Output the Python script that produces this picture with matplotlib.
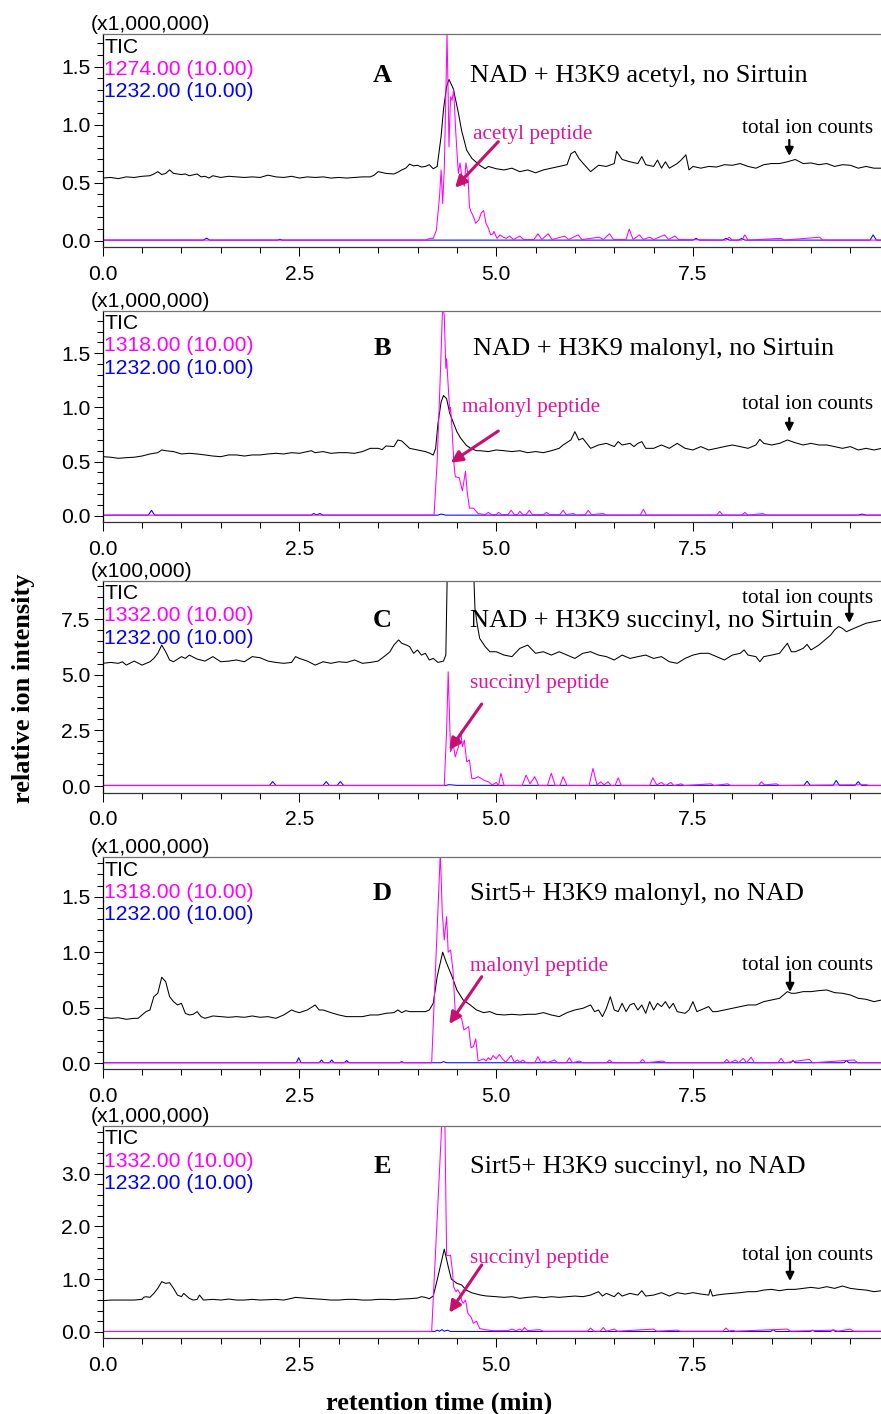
import numpy as np
import matplotlib
matplotlib.use('Agg')
import matplotlib.pyplot as plt
from matplotlib.ticker import MultipleLocator, FormatStrFormatter

W, H = 881, 1414

# ---- Panel A: NAD + H3K9 acetyl, no Sirtuin (x1,000,000) ----
tic_a = [(0.0,0.54),(0.1,0.545),(0.2,0.535),(0.3,0.55),(0.4,0.545),(0.5,0.555),(0.6,0.56),(0.65,0.575),(0.7,0.595),
         (0.75,0.57),(0.8,0.58),(0.85,0.61),(0.9,0.58),(1.0,0.57),(1.05,0.575),(1.1,0.56),(1.2,0.575),(1.25,0.55),
         (1.3,0.555),(1.35,0.54),(1.4,0.56),(1.5,0.545),(1.6,0.555),(1.7,0.55),(1.8,0.545),(1.9,0.55),(2.0,0.545),
         (2.1,0.565),(2.2,0.55),(2.3,0.545),(2.4,0.555),(2.5,0.54),(2.6,0.55),(2.7,0.545),(2.8,0.55),(2.9,0.54),
         (3.0,0.545),(3.1,0.54),(3.2,0.545),(3.3,0.55),(3.4,0.55),(3.45,0.565),(3.5,0.595),(3.6,0.58),(3.7,0.575),
         (3.75,0.59),(3.8,0.61),(3.85,0.625),(3.9,0.66),(3.95,0.645),(4.0,0.65),(4.05,0.635),(4.1,0.64),(4.15,0.655),
         (4.2,0.62),(4.25,0.64),(4.3,0.9),(4.33,1.13),(4.37,1.33),(4.40,1.39),(4.455,1.31),(4.52,1.10),(4.56,0.95),
         (4.625,0.78),(4.69,0.71),(4.79,0.65),(4.86,0.62),(4.9,0.64),(5.0,0.62),(5.1,0.61),(5.2,0.625),(5.3,0.595),
         (5.4,0.61),(5.5,0.585),(5.6,0.61),(5.7,0.625),(5.8,0.64),(5.9,0.655),(5.95,0.75),(6.0,0.77),(6.05,0.71),
         (6.1,0.67),(6.2,0.595),(6.3,0.65),(6.4,0.64),(6.5,0.665),(6.53,0.77),(6.6,0.70),(6.7,0.68),(6.8,0.665),
         (6.85,0.725),(6.9,0.655),(7.0,0.64),(7.05,0.695),(7.1,0.625),(7.15,0.68),(7.2,0.625),(7.3,0.665),(7.35,0.695),
         (7.41,0.74),(7.45,0.61),(7.5,0.64),(7.6,0.625),(7.7,0.64),(7.8,0.635),(7.9,0.655),(8.0,0.65),(8.1,0.665),
         (8.2,0.64),(8.3,0.625),(8.4,0.655),(8.5,0.665),(8.6,0.665),(8.7,0.68),(8.8,0.70),(8.9,0.665),(9.0,0.67),
         (9.1,0.655),(9.2,0.665),(9.3,0.64),(9.4,0.655),(9.5,0.65),(9.6,0.625),(9.7,0.64),(9.8,0.625),(9.9,0.625)]
mag_a = [(0.0,0.005),(4.1,0.005),(4.16,0.02),(4.20,0.02),(4.24,0.09),(4.28,0.38),(4.30,0.61),(4.32,0.32),(4.34,0.61),
         (4.36,1.24),(4.375,1.79),(4.39,1.24),(4.40,0.81),(4.42,1.24),(4.44,1.21),(4.46,1.30),(4.485,0.95),(4.51,0.67),
         (4.52,0.58),(4.54,0.67),(4.565,0.55),(4.595,0.47),(4.615,0.67),(4.64,0.58),(4.66,0.29),(4.68,0.25),(4.71,0.21),
         (4.74,0.15),(4.78,0.18),(4.81,0.24),(4.84,0.26),(4.87,0.15),(4.90,0.11),(4.93,0.05),(4.96,0.06),(4.97,0.08),
         (5.01,0.02),(5.05,0.05),(5.09,0.03),(5.13,0.02),(5.17,0.04),(5.22,0.01),(5.30,0.04),(5.35,0.01),(5.48,0.01),
         (5.53,0.06),(5.58,0.01),(5.66,0.06),(5.71,0.01),(5.87,0.04),(5.92,0.01),(6.04,0.05),(6.09,0.01),(6.31,0.03),
         (6.36,0.01),(6.44,0.06),(6.49,0.01),(6.65,0.01),(6.69,0.10),(6.74,0.01),(6.82,0.05),(6.87,0.01),(6.95,0.03),
         (7.0,0.01),(7.14,0.05),(7.19,0.01),(7.27,0.04),(7.32,0.01),(7.92,0.005),(7.96,0.03),(8.0,0.005),(8.12,0.005),
         (8.16,0.05),(8.2,0.005),(8.62,0.02),(8.66,0.005),(9.11,0.03),(9.15,0.005),(9.9,0.005)]
blu_a = [(0,0.005),(1.28,0.005),(1.32,0.022),(1.36,0.005),(2.22,0.005),(2.25,0.012),(2.28,0.005),(7.5,0.005),
         (7.54,0.02),(7.58,0.005),(7.88,0.005),(7.92,0.02),(7.96,0.005),(8.08,0.005),(8.12,0.02),(8.16,0.005),
         (9.75,0.005),(9.79,0.05),(9.83,0.005),(9.9,0.005)]

# ---- Panel B: NAD + H3K9 malonyl, no Sirtuin (x1,000,000) ----
tic_b = [(0.0,0.545),(0.1,0.54),(0.2,0.53),(0.3,0.536),(0.4,0.54),(0.5,0.551),(0.6,0.57),(0.7,0.582),(0.75,0.607),
         (0.8,0.60),(0.9,0.592),(1.0,0.57),(1.1,0.576),(1.2,0.57),(1.3,0.561),(1.4,0.551),(1.5,0.545),(1.6,0.561),
         (1.7,0.561),(1.8,0.551),(1.9,0.561),(2.0,0.561),(2.1,0.57),(2.2,0.576),(2.3,0.57),(2.4,0.582),(2.5,0.576),
         (2.6,0.592),(2.65,0.60),(2.7,0.582),(2.8,0.592),(2.9,0.576),(3.0,0.582),(3.1,0.582),(3.2,0.576),(3.3,0.592),
         (3.4,0.622),(3.5,0.622),(3.55,0.61),(3.6,0.644),(3.7,0.638),(3.75,0.699),(3.8,0.69),(3.9,0.622),(4.0,0.607),
         (4.1,0.592),(4.16,0.576),(4.2,0.56),(4.23,0.62),(4.26,0.85),(4.30,1.05),(4.33,1.11),(4.37,1.08),(4.41,0.945),
         (4.45,0.87),(4.50,0.776),(4.55,0.714),(4.62,0.65),(4.68,0.62),(4.75,0.60),(4.8,0.60),(4.9,0.592),(5.0,0.607),
         (5.1,0.60),(5.2,0.592),(5.3,0.60),(5.4,0.582),(5.5,0.592),(5.6,0.582),(5.7,0.60),(5.8,0.622),(5.85,0.653),
         (5.95,0.70),(6.0,0.776),(6.05,0.699),(6.1,0.715),(6.15,0.668),(6.2,0.622),(6.3,0.653),(6.4,0.668),(6.5,0.638),
         (6.55,0.684),(6.6,0.653),(6.7,0.668),(6.75,0.638),(6.8,0.668),(6.85,0.684),(6.9,0.622),(7.0,0.622),(7.1,0.653),
         (7.2,0.622),(7.3,0.668),(7.4,0.622),(7.5,0.607),(7.6,0.638),(7.7,0.607),(7.8,0.622),(7.9,0.638),(8.0,0.653),
         (8.1,0.638),(8.2,0.622),(8.3,0.653),(8.35,0.705),(8.4,0.668),(8.5,0.653),(8.6,0.668),(8.7,0.699),(8.8,0.674),
         (8.9,0.653),(9.0,0.668),(9.1,0.653),(9.2,0.653),(9.3,0.638),(9.4,0.622),(9.5,0.638),(9.6,0.607),(9.7,0.622),
         (9.8,0.607),(9.9,0.622)]
mag_b = [(0,0.005),(4.21,0.005),(4.25,0.5),(4.29,1.3),(4.32,1.95),(4.34,1.85),(4.36,1.36),(4.37,1.45),(4.39,1.2),
         (4.41,0.96),(4.42,1.0),(4.44,0.79),(4.46,0.51),(4.48,0.36),(4.53,0.35),(4.57,0.23),(4.61,0.41),(4.63,0.23),
         (4.66,0.07),(4.71,0.07),(4.77,0.02),(4.86,0.01),(4.90,0.03),(4.94,0.01),(5.0,0.01),(5.03,0.03),(5.07,0.01),
         (5.15,0.01),(5.19,0.05),(5.23,0.01),(5.27,0.01),(5.30,0.04),(5.34,0.01),(5.38,0.01),(5.42,0.05),(5.46,0.01),
         (5.60,0.01),(5.64,0.03),(5.68,0.01),(5.81,0.01),(5.85,0.05),(5.89,0.01),(5.98,0.02),(6.02,0.005),(6.13,0.01),
         (6.17,0.05),(6.21,0.01),(6.36,0.02),(6.40,0.005),(6.83,0.005),(6.87,0.06),(6.91,0.005),(7.80,0.005),(7.84,0.04),
         (7.88,0.005),(8.12,0.005),(8.16,0.03),(8.20,0.005),(8.39,0.02),(8.43,0.005),(9.9,0.005)]
blu_b = [(0,0.005),(0.58,0.005),(0.62,0.05),(0.66,0.005),(2.65,0.005),(2.68,0.02),(2.72,0.008),(2.76,0.02),
         (2.80,0.005),(4.26,0.005),(4.30,0.015),(4.36,0.005),(9.6,0.005),(9.65,0.015),(9.7,0.005),(9.9,0.005)]

# ---- Panel C: NAD + H3K9 succinyl, no Sirtuin (x100,000) ----
tic_c = [(0.0,5.51),(0.1,5.55),(0.2,5.51),(0.25,5.58),(0.3,5.43),(0.4,5.61),(0.5,5.43),(0.6,5.58),(0.65,5.73),
         (0.7,5.96),(0.75,6.33),(0.8,6.03),(0.85,5.66),(0.9,5.58),(1.0,5.81),(1.05,5.73),(1.1,5.88),(1.2,5.70),
         (1.3,5.61),(1.4,5.81),(1.5,5.58),(1.6,5.61),(1.7,5.66),(1.8,5.58),(1.9,5.81),(2.0,5.76),(2.1,5.61),(2.2,5.55),
         (2.3,5.51),(2.4,5.55),(2.45,5.81),(2.5,5.73),(2.6,5.61),(2.7,5.43),(2.8,5.58),(2.9,5.51),(3.0,5.58),(3.1,5.55),
         (3.2,5.66),(3.3,5.51),(3.4,5.55),(3.5,5.61),(3.6,5.88),(3.65,6.03),(3.7,6.33),(3.76,6.56),(3.8,6.41),
         (3.86,6.33),(3.9,6.26),(3.95,5.96),(4.0,6.11),(4.05,5.88),(4.1,5.96),(4.15,5.66),(4.2,5.73),(4.26,5.55),
         (4.33,5.61),(4.36,5.88),(4.39,12.0),(4.42,30.0),(4.55,40.0),(4.68,30.0),(4.71,10.0),(4.73,7.98),(4.76,7.23),
         (4.79,6.63),(4.86,6.26),(4.92,6.03),(5.0,6.03),(5.1,5.88),(5.2,5.81),(5.3,6.18),(5.4,6.33),(5.5,5.96),
         (5.6,6.03),(5.7,5.88),(5.8,6.03),(5.9,5.88),(6.0,5.73),(6.1,5.96),(6.2,6.03),(6.3,5.88),(6.4,5.81),(6.5,5.66),
         (6.6,5.88),(6.7,5.73),(6.8,5.81),(6.9,5.88),(7.0,5.73),(7.1,5.81),(7.2,5.58),(7.3,5.51),(7.4,5.73),(7.5,5.88),
         (7.6,5.96),(7.7,5.96),(7.8,5.81),(7.9,5.66),(8.0,5.88),(8.1,5.96),(8.15,6.11),(8.2,5.88),(8.3,5.81),
         (8.35,5.58),(8.4,5.81),(8.5,5.88),(8.6,5.96),(8.7,6.41),(8.75,6.03),(8.8,6.03),(8.9,6.18),(8.95,6.36),
         (9.0,6.11),(9.1,6.33),(9.2,6.63),(9.25,6.78),(9.3,7.01),(9.35,7.16),(9.4,7.08),(9.45,6.93),(9.5,7.01),
         (9.6,7.16),(9.7,7.31),(9.8,7.38),(9.9,7.45)]
mag_c = [(0,0.02),(4.34,0.02),(4.37,2.5),(4.39,5.13),(4.42,1.54),(4.455,1.84),(4.48,1.31),(4.52,1.76),(4.55,2.44),
         (4.57,1.76),(4.595,2.06),(4.625,1.09),(4.66,1.17),(4.69,0.34),(4.73,0.34),(4.77,0.42),(4.84,0.27),(4.90,0.19),
         (4.95,0.05),(5.0,0.16),(5.03,0.02),(5.06,0.57),(5.10,0.02),(5.33,0.02),(5.38,0.49),(5.43,0.1),(5.49,0.42),
         (5.54,0.02),(5.65,0.02),(5.70,0.57),(5.75,0.02),(5.81,0.02),(5.85,0.42),(5.90,0.02),(6.18,0.02),(6.23,0.79),
         (6.28,0.05),(6.33,0.19),(6.37,0.05),(6.42,0.19),(6.46,0.02),(6.51,0.02),(6.55,0.37),(6.59,0.02),(6.95,0.02),
         (6.99,0.37),(7.04,0.05),(7.10,0.16),(7.15,0.02),(7.22,0.16),(7.26,0.02),(7.35,0.10),(7.39,0.02),(7.73,0.10),
         (7.77,0.02),(7.94,0.10),(7.98,0.02),(8.33,0.02),(8.37,0.19),(8.41,0.05),(8.56,0.10),(8.60,0.02),(9.70,0.06),
         (9.74,0.02),(9.9,0.02)]
blu_c = [(0,0.03),(2.12,0.03),(2.16,0.2),(2.20,0.03),(2.80,0.03),(2.84,0.2),(2.88,0.03),(2.98,0.03),(3.02,0.2),
         (3.06,0.03),(4.36,0.03),(4.4,0.06),(4.5,0.03),(8.91,0.03),(8.95,0.22),(8.99,0.03),(9.28,0.03),(9.32,0.25),
         (9.36,0.03),(9.56,0.03),(9.60,0.2),(9.64,0.03),(9.9,0.03)]

# ---- Panel D: Sirt5 + H3K9 malonyl, no NAD (x1,000,000) ----
tic_d = [(0.0,0.414),(0.1,0.405),(0.2,0.41),(0.3,0.396),(0.4,0.405),(0.45,0.405),(0.5,0.435),(0.55,0.465),(0.6,0.48),
         (0.65,0.60),(0.7,0.63),(0.75,0.774),(0.8,0.735),(0.85,0.60),(0.9,0.555),(0.95,0.525),(1.0,0.54),(1.05,0.45),
         (1.1,0.435),(1.15,0.441),(1.2,0.465),(1.25,0.42),(1.3,0.405),(1.4,0.426),(1.5,0.42),(1.6,0.414),(1.7,0.42),
         (1.8,0.414),(1.9,0.426),(2.0,0.414),(2.1,0.42),(2.2,0.405),(2.3,0.435),(2.4,0.48),(2.45,0.465),(2.5,0.456),
         (2.6,0.48),(2.7,0.525),(2.75,0.48),(2.8,0.48),(2.9,0.456),(3.0,0.435),(3.1,0.42),(3.2,0.42),(3.3,0.42),
         (3.4,0.435),(3.5,0.435),(3.6,0.45),(3.7,0.456),(3.75,0.48),(3.8,0.456),(3.85,0.474),(3.9,0.465),(4.0,0.465),
         (4.1,0.465),(4.15,0.48),(4.2,0.54),(4.25,0.78),(4.32,1.0),(4.37,0.90),(4.44,0.78),(4.50,0.66),(4.58,0.57),
         (4.67,0.525),(4.75,0.48),(4.84,0.456),(4.92,0.465),(5.0,0.441),(5.1,0.435),(5.2,0.441),(5.3,0.435),(5.4,0.441),
         (5.5,0.441),(5.6,0.456),(5.7,0.435),(5.8,0.42),(5.9,0.456),(6.0,0.48),(6.1,0.495),(6.15,0.51),(6.2,0.525),
         (6.25,0.465),(6.3,0.48),(6.35,0.42),(6.4,0.495),(6.45,0.60),(6.5,0.48),(6.55,0.465),(6.6,0.54),(6.65,0.465),
         (6.7,0.525),(6.75,0.54),(6.8,0.48),(6.85,0.525),(6.9,0.45),(6.95,0.555),(7.0,0.48),(7.05,0.54),(7.1,0.51),
         (7.15,0.555),(7.2,0.495),(7.25,0.54),(7.3,0.465),(7.4,0.45),(7.45,0.48),(7.5,0.555),(7.55,0.465),(7.6,0.48),
         (7.7,0.51),(7.75,0.465),(7.8,0.465),(7.9,0.48),(8.0,0.495),(8.1,0.51),(8.2,0.525),(8.3,0.525),(8.4,0.555),
         (8.5,0.57),(8.6,0.585),(8.7,0.645),(8.75,0.63),(8.8,0.63),(8.9,0.645),(9.0,0.645),(9.1,0.654),(9.2,0.66),
         (9.3,0.636),(9.4,0.63),(9.5,0.615),(9.6,0.585),(9.7,0.576),(9.8,0.555),(9.9,0.57)]
mag_d = [(0,0.005),(4.18,0.005),(4.29,1.9),(4.315,1.35),(4.34,1.11),(4.37,1.32),(4.39,1.0),(4.42,1.02),(4.45,0.84),
         (4.48,0.46),(4.52,0.42),(4.56,0.405),(4.59,0.30),(4.65,0.33),(4.68,0.14),(4.71,0.15),(4.74,0.22),(4.77,0.02),
         (4.84,0.04),(4.87,0.02),(4.90,0.05),(4.93,0.03),(4.96,0.07),(5.0,0.04),(5.04,0.08),(5.08,0.04),(5.12,0.01),
         (5.19,0.07),(5.23,0.01),(5.27,0.03),(5.30,0.01),(5.34,0.03),(5.38,0.005),(5.49,0.005),(5.53,0.06),(5.57,0.005),
         (5.61,0.02),(5.65,0.005),(5.74,0.03),(5.78,0.005),(5.89,0.005),(5.93,0.05),(5.97,0.005),(6.06,0.02),(6.1,0.005),
         (6.40,0.005),(6.44,0.03),(6.48,0.005),(6.82,0.005),(6.86,0.035),(6.90,0.005),(7.12,0.02),(7.16,0.005),
         (7.89,0.005),(7.93,0.035),(7.97,0.005),(8.04,0.03),(8.08,0.005),(8.14,0.045),(8.18,0.005),(8.24,0.055),
         (8.28,0.005),(8.58,0.005),(8.62,0.045),(8.66,0.005),(8.98,0.035),(9.02,0.005),(9.55,0.03),(9.59,0.005),
         (9.9,0.005)]
blu_d = [(0,0.005),(2.46,0.005),(2.49,0.05),(2.52,0.005),(2.75,0.005),(2.78,0.03),(2.81,0.005),(2.88,0.005),
         (2.91,0.03),(2.94,0.005),(3.07,0.005),(3.10,0.025),(3.13,0.005),(3.77,0.005),(3.80,0.015),(3.83,0.005),
         (4.3,0.005),(4.33,0.015),(4.37,0.005),(8.74,0.005),(8.77,0.025),(8.80,0.005),(9.42,0.005),(9.45,0.025),
         (9.48,0.005),(9.9,0.005)]

# ---- Panel E: Sirt5 + H3K9 succinyl, no NAD (x1,000,000) ----
tic_e = [(0.0,0.589),(0.1,0.602),(0.2,0.602),(0.3,0.602),(0.4,0.602),(0.5,0.615),(0.52,0.653),(0.55,0.666),(0.6,0.653),
         (0.65,0.729),(0.7,0.824),(0.75,0.951),(0.8,0.919),(0.85,0.932),(0.9,0.824),(0.95,0.697),(1.0,0.666),(1.03,0.729),
         (1.1,0.634),(1.15,0.602),(1.2,0.615),(1.23,0.697),(1.28,0.602),(1.4,0.615),(1.5,0.602),(1.6,0.621),(1.7,0.602),
         (1.8,0.602),(1.9,0.615),(2.0,0.602),(2.1,0.608),(2.2,0.615),(2.3,0.602),(2.4,0.634),(2.45,0.653),(2.6,0.634),
         (2.8,0.615),(2.9,0.602),(3.0,0.602),(3.1,0.615),(3.2,0.615),(3.3,0.602),(3.4,0.602),(3.5,0.615),(3.6,0.615),
         (3.7,0.608),(3.8,0.621),(3.9,0.628),(4.0,0.640),(4.05,0.666),(4.1,0.653),(4.15,0.628),(4.2,0.678),(4.25,0.983),
         (4.34,1.57),(4.39,1.24),(4.43,1.0),(4.50,0.92),(4.56,0.89),(4.62,0.79),(4.69,0.74),(4.79,0.70),(4.87,0.68),
         (5.0,0.666),(5.1,0.653),(5.2,0.666),(5.3,0.634),(5.4,0.653),(5.5,0.666),(5.6,0.647),(5.7,0.666),(5.8,0.653),
         (5.9,0.666),(6.0,0.678),(6.1,0.666),(6.2,0.697),(6.3,0.761),(6.35,0.678),(6.4,0.729),(6.5,0.666),(6.55,0.742),
         (6.6,0.678),(6.7,0.729),(6.8,0.697),(6.85,0.780),(6.9,0.678),(7.0,0.697),(7.1,0.742),(7.2,0.678),(7.3,0.742),
         (7.4,0.716),(7.5,0.742),(7.6,0.716),(7.7,0.697),(7.72,0.805),(7.75,0.678),(7.8,0.697),(7.9,0.716),(8.0,0.729),
         (8.1,0.742),(8.2,0.761),(8.3,0.761),(8.4,0.792),(8.5,0.805),(8.6,0.780),(8.7,0.805),(8.8,0.805),(8.9,0.824),
         (9.0,0.843),(9.1,0.824),(9.2,0.856),(9.3,0.824),(9.4,0.868),(9.5,0.824),(9.6,0.805),(9.7,0.792),(9.8,0.761),
         (9.9,0.780)]
mag_e = [(0,0.005),(4.18,0.005),(4.32,4.3),(4.345,4.3),(4.37,1.45),(4.40,1.45),(4.42,1.45),(4.44,1.2),(4.46,0.85),
         (4.49,0.76),(4.51,0.80),(4.54,0.73),(4.56,0.60),(4.58,0.54),(4.61,0.60),(4.64,0.35),(4.68,0.28),(4.71,0.16),
         (4.75,0.20),(4.79,0.06),(4.85,0.04),(4.95,0.02),(5.15,0.02),(5.2,0.05),(5.25,0.02),(5.3,0.05),(5.33,0.02),
         (5.36,0.08),(5.4,0.02),(5.55,0.04),(5.6,0.01),(6.16,0.01),(6.2,0.07),(6.24,0.01),(6.32,0.01),(6.36,0.08),
         (6.4,0.01),(6.5,0.05),(6.54,0.01),(7.0,0.05),(7.04,0.01),(7.3,0.03),(7.34,0.01),(7.88,0.01),(7.92,0.07),
         (7.96,0.01),(8.0,0.03),(8.04,0.01),(8.7,0.05),(8.74,0.01),(9.3,0.03),(9.34,0.01),(9.5,0.05),(9.54,0.01),(9.9,0.01)]
blu_e = [(0,0.005),(4.22,0.005),(4.25,0.03),(4.28,0.01),(4.31,0.04),(4.34,0.01),(4.38,0.03),(4.42,0.005),(8.49,0.005),
         (8.52,0.04),(8.55,0.005),(8.99,0.005),(9.02,0.03),(9.05,0.005),(9.25,0.005),(9.28,0.035),(9.31,0.005),(9.9,0.005)]

letters = ['A', 'B', 'C', 'D', 'E']
titles = ['NAD + H3K9 acetyl, no Sirtuin', 'NAD + H3K9 malonyl, no Sirtuin', 'NAD + H3K9 succinyl, no Sirtuin',
          'Sirt5+ H3K9 malonyl, no NAD', 'Sirt5+ H3K9 succinyl, no NAD']
peptides = ['acetyl peptide', 'malonyl peptide', 'succinyl peptide', 'malonyl peptide', 'succinyl peptide']
mz_labels = ['1274.00 (10.00)', '1318.00 (10.00)', '1332.00 (10.00)', '1318.00 (10.00)', '1332.00 (10.00)']
scales = ['(x1,000,000)', '(x1,000,000)', '(x100,000)', '(x1,000,000)', '(x1,000,000)']
ylims = [(-0.057, 1.779), (-0.061, 1.893), (-0.30, 9.22), (-0.054, 1.854), (-0.125, 3.91)]
ymajor = [0.5, 0.5, 2.5, 0.5, 1.0]
yminor = [0.1, 0.1, 0.5, 0.1, 0.2]
tics = [tic_a, tic_b, tic_c, tic_d, tic_e]
mags = [mag_a, mag_b, mag_c, mag_d, mag_e]
blus = [blu_a, blu_b, blu_c, blu_d, blu_e]

# layout in pixels (top, bottom of each plot frame)
frames = [(34.3, 247.3), (310.7, 522.3), (580.7, 792.7), (857.3, 1069.3), (1126.0, 1338.3)]
x_left = 102.7
px_per_min = 78.7
# text anchors (pixels)
letter_y = [81.7, 355.0, 626.7, 900.0, 1172.7]
pep_xy = [(473.3, 139.3), (461.7, 411.7), (470, 688.3), (470, 970.7), (470, 1262.7)]
pep_arrow = [((498.3, 141.7), (455, 187.7)), ((498.3, 431), (450.7, 462.7)), ((481.7, 704), (449.3, 750)),
             ((481.7, 976.7), (449.3, 1024)), ((481.7, 1265), (449.3, 1312.7))]
tot_y = [132.7, 409.3, 603.3, 970.0, 1260.0]
tot_arrow = [(789.3, 140, 156), (789.3, 418, 432), (849.3, 603, 623), (790, 972, 992), (790, 1260, 1281)]

SANS = ['Liberation Sans', 'DejaVu Sans']
SERIF = ['Liberation Serif', 'DejaVu Serif']
FS = 15.2
MAG = '#ff00ff'
PEP_TXT = '#e0149c'
PEP_ARR = '#c80f6e'


def fx(x):
    return x / W


def fy(y):
    return 1 - y / H


fig = plt.figure(figsize=(W / 100, H / 100), dpi=100)

for i in range(5):
    top, bot = frames[i]
    ax = fig.add_axes([fx(x_left), fy(bot), fx(W - x_left), (bot - top) / H])
    t, v = np.array(tics[i]).T
    ax.plot(t, v, color='black', lw=0.75)
    t, v = np.array(blus[i]).T
    ax.plot(t, v, color='#0000ff', lw=0.75)
    t, v = np.array(mags[i]).T
    ax.plot(t, v, color=MAG, lw=0.75)

    ax.set_xlim(0, (W - x_left) / px_per_min)
    ax.set_ylim(ylims[i])
    ax.xaxis.set_major_locator(MultipleLocator(2.5))
    ax.xaxis.set_minor_locator(MultipleLocator(0.5))
    ax.yaxis.set_major_locator(MultipleLocator(ymajor[i]))
    ax.yaxis.set_minor_locator(MultipleLocator(yminor[i]))
    ax.xaxis.set_major_formatter(FormatStrFormatter('%.1f'))
    ax.yaxis.set_major_formatter(FormatStrFormatter('%.1f'))
    ax.spines['right'].set_visible(False)
    ax.spines['top'].set_color('#707070')
    ax.spines['bottom'].set_color('#333333')
    ax.spines['left'].set_color('black')
    for s in ax.spines.values():
        s.set_linewidth(0.9)
    ax.tick_params(which='major', length=6.5, width=0.75, direction='out', labelsize=FS, colors='black')
    ax.tick_params(which='minor', length=4.3, width=0.75, direction='out')
    ax.tick_params(axis='x', which='major', pad=6.0)
    ax.tick_params(axis='y', which='major', pad=2.4)
    for lab in ax.get_xticklabels() + ax.get_yticklabels():
        lab.set_family(SANS)

    # scale text and trace labels
    fig.text(fx(90.7), fy(top - 9.5), scales[i], ha='left', va='center', fontsize=FS, family=SANS)
    fig.text(fx(104.5), fy(top + 18.4), 'TIC', ha='left', va='baseline', fontsize=FS, family=SANS)
    fig.text(fx(104.5), fy(top + 40.7), mz_labels[i], ha='left', va='baseline', fontsize=FS, family=SANS, color=MAG)
    fig.text(fx(104.5), fy(top + 63.0), '1232.00 (10.00)', ha='left', va='baseline', fontsize=FS, family=SANS,
             color='#0000ff')

    # panel letter and condition
    fig.text(fx(382.5), fy(letter_y[i]), letters[i], ha='center', va='baseline', fontsize=19, family=SERIF,
             fontweight='bold')
    fig.text(fx(473.3 if i == 1 else 470), fy(letter_y[i]), titles[i], ha='left', va='baseline', fontsize=19,
             family=SERIF)

    # peptide annotation
    px, py = pep_xy[i]
    fig.text(fx(px), fy(py), peptides[i], ha='left', va='baseline', fontsize=15.3, family=SERIF, color=PEP_TXT)
    (x1, y1), (x2, y2) = pep_arrow[i]
    ax.annotate('', xy=(x2, H - y2), xytext=(x1, H - y1), xycoords='figure pixels', textcoords='figure pixels',
                arrowprops=dict(arrowstyle='-|>', color=PEP_ARR, lw=2.2, mutation_scale=17, shrinkA=0, shrinkB=0),
                annotation_clip=False)

    # total ion counts
    fig.text(fx(741.7), fy(tot_y[i]), 'total ion counts', ha='left', va='baseline', fontsize=15.3, family=SERIF)
    ax_x, a_y1, a_y2 = tot_arrow[i]
    ax.annotate('', xy=(ax_x, H - a_y2), xytext=(ax_x, H - a_y1), xycoords='figure pixels', textcoords='figure pixels',
                arrowprops=dict(arrowstyle='-|>', color='black', lw=1.6, mutation_scale=12, shrinkA=0, shrinkB=0),
                annotation_clip=False)

fig.text(fx(24), fy(688), 'relative ion intensity', rotation=90, ha='center', va='center', fontsize=19,
         family=SERIF, fontweight='bold')
fig.text(fx(439.5), fy(1410), 'retention time (min)', ha='center', va='baseline', fontsize=19, family=SERIF,
         fontweight='bold')

fig.savefig('out.png', dpi=100)
